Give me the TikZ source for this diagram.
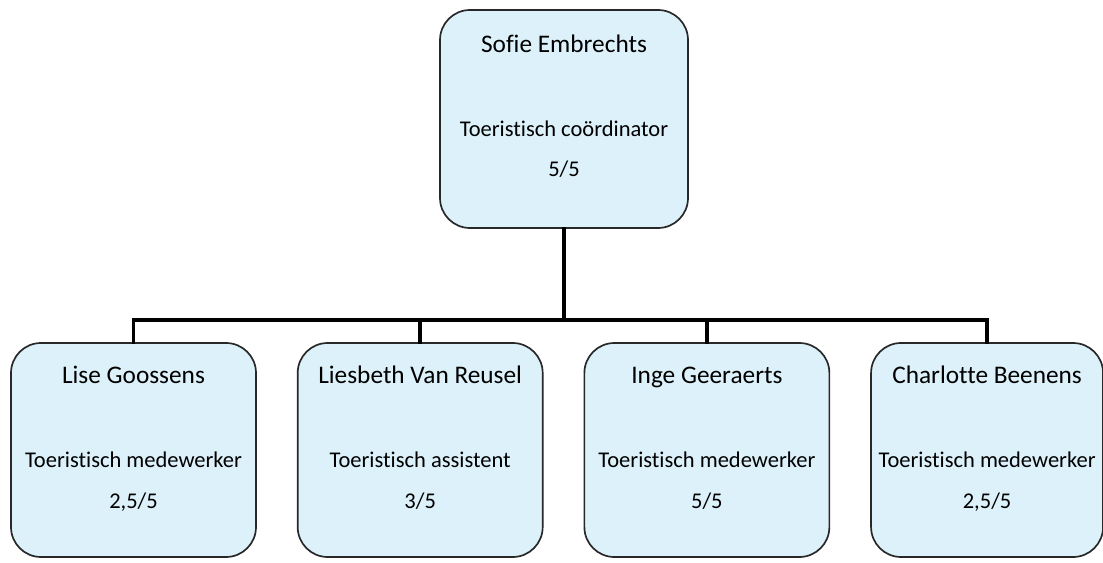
\documentclass[tikz,border=0pt]{standalone}
\usepackage{fontspec}
\setmainfont{Carlito}[Ligatures=NoCommon]
\usepackage{tikz}
\usetikzlibrary{positioning}
\definecolor{boxfill}{RGB}{220,241,249}
\definecolor{boxline}{RGB}{40,40,40}
\tikzset{
    staffbox/.style={rectangle,rounded corners=0.75cm,draw=boxline,line width=1.2pt,
        fill=boxfill,minimum width=6.125cm,minimum height=5.35cm,inner sep=0pt},
    namelabel/.style={font=\fontsize{18}{21}\selectfont,inner sep=0pt,
        text height=1.5ex,text depth=0.4ex},
    rolelabel/.style={font=\fontsize{16}{19}\selectfont,inner sep=0pt,
        text height=1.5ex,text depth=0.4ex},
    link/.style={line width=2.6pt,line cap=rect}
}

\begin{document}
\begin{tikzpicture}
    \useasboundingbox (0,0) rectangle (27.575,14.05);

    % Coordinator
    \node[staffbox,minimum height=5.45cm,minimum width=6.2cm] (sofie) at (14.1,11.075) {};
    \node[namelabel] (sofie_name) at ([yshift=-1.0cm]sofie.north) {Sofie Embrechts};
    \node[rolelabel] (sofie_role) at ([yshift=-3.08cm]sofie.north) {Toeristisch coördinator};
    \node[rolelabel] (sofie_share) at ([yshift=-4.08cm]sofie.north) {5/5};

    % Staff
    \node[staffbox] (lise) at (3.3375,2.8) {};
    \node[staffbox] (liesbeth) [right=1cm of lise] {};
    \node[staffbox] (inge) [right=1cm of liesbeth] {};
    \node[staffbox,minimum width=5.8cm] (charlotte) [right=1cm of inge] {};

    \node[namelabel] (lise_name) at ([yshift=-0.95cm]lise.north) {Lise Goossens};
    \node[rolelabel] (lise_role) at ([yshift=-3.03cm]lise.north) {Toeristisch medewerker};
    \node[rolelabel] (lise_share) at ([yshift=-4.06cm]lise.north) {2,5/5};

    \node[namelabel] (liesbeth_name) at ([yshift=-0.95cm]liesbeth.north) {Liesbeth Van Reusel};
    \node[rolelabel] (liesbeth_role) at ([yshift=-3.03cm]liesbeth.north) {Toeristisch assistent};
    \node[rolelabel] (liesbeth_share) at ([yshift=-4.06cm]liesbeth.north) {3/5};

    \node[namelabel] (inge_name) at ([yshift=-0.95cm]inge.north) {Inge Geeraerts};
    \node[rolelabel] (inge_role) at ([yshift=-3.03cm]inge.north) {Toeristisch medewerker};
    \node[rolelabel] (inge_share) at ([yshift=-4.06cm]inge.north) {5/5};

    \node[namelabel] (charlotte_name) at ([yshift=-0.95cm]charlotte.north) {Charlotte Beenens};
    \node[rolelabel] (charlotte_role) at ([yshift=-3.03cm]charlotte.north) {Toeristisch medewerker};
    \node[rolelabel] (charlotte_share) at ([yshift=-4.06cm]charlotte.north) {2,5/5};

    % Connectors
    \coordinate (junction) at (sofie.south |- 0,6.05);
    \draw[link] (sofie.south) -- (junction);
    \draw[link] (junction) -| (lise.north);
    \draw[link] (junction) -| (liesbeth.north);
    \draw[link] (junction) -| (inge.north);
    \draw[link] (junction) -| (charlotte.north);
\end{tikzpicture}
\end{document}
